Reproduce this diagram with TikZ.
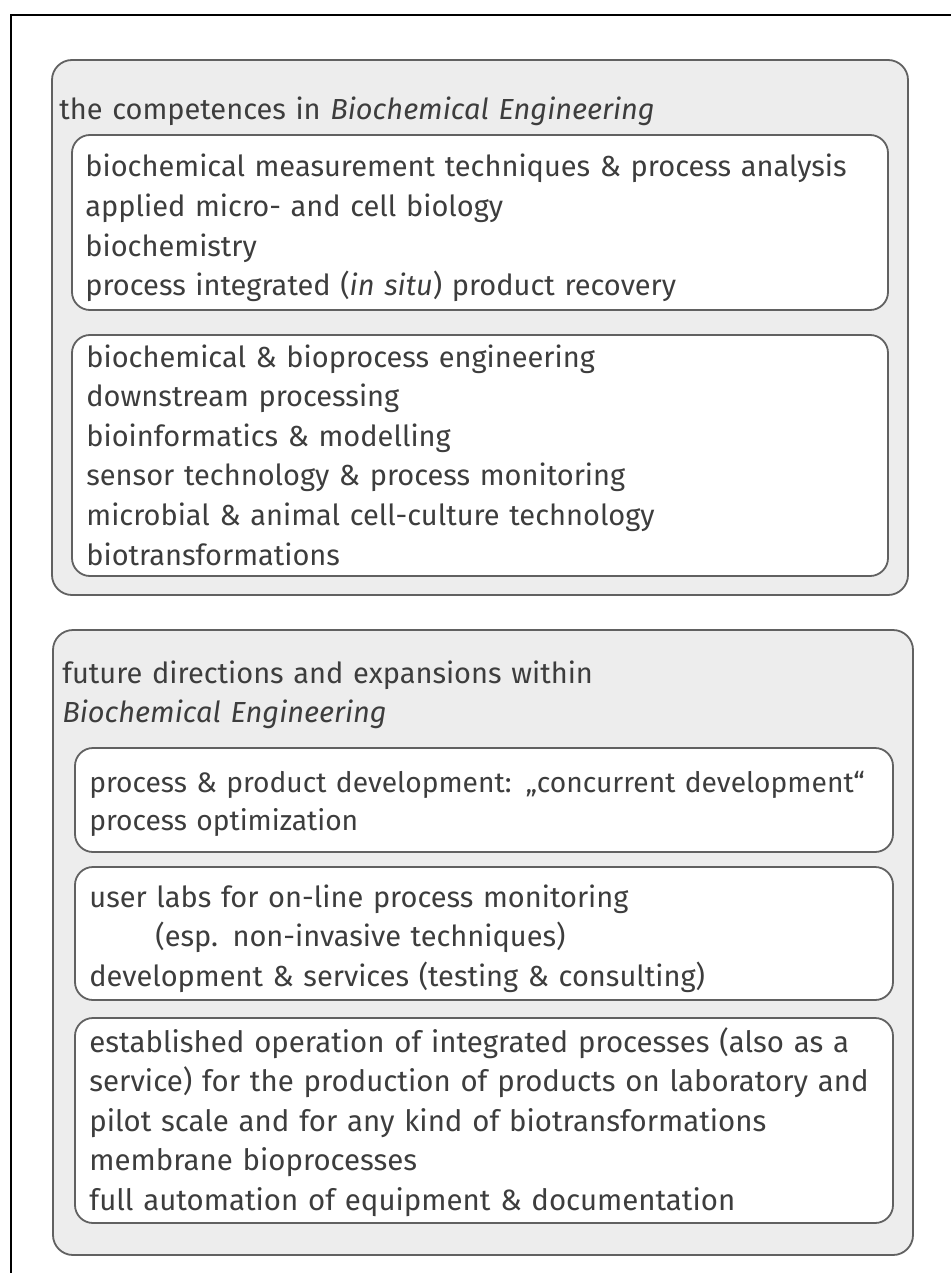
\documentclass[tikz,border=0pt]{standalone}
\usepackage{fontspec}
\setmainfont{Fira Sans}
\usetikzlibrary{calc}
\tikzset{
	outerbox/.style={line width=0.9pt, draw=black!62, fill=black!7, rounded corners=10pt},
	innerbox/.style={line width=0.9pt, draw=black!62, fill=white, rounded corners=9pt},
	boxtext/.style={anchor=base west, inner sep=0pt, align=left, text width=440pt, text=black!76, font=\fontsize{14.5}{19.8}\selectfont}
}

\begin{document}
\begin{tikzpicture}[x=0.5pt, y=-0.5pt]
			%%%%% START %%%%%
			
			\useasboundingbox (0, 0) rectangle (951, 1273);
			\draw[line width=1pt] (951, 15) -- (11, 15) -- (11, 1273);
			
			% competences
			\draw[outerbox] (52, 60) rectangle (908, 595);
			\node[boxtext] (compTitle) at (59, 120) {the competences in \textit{Biochemical Engineering}};
			
			\draw[innerbox] (72, 135) rectangle (888, 310);
			\node[boxtext] (compMeasure) at (85, 177) {biochemical measurement techniques \& process analysis\\
				applied micro- and cell biology\\
				biochemistry\\
				process integrated (\textit{in situ}) product recovery};
			
			\draw[innerbox] (72, 335) rectangle (888, 576);
			\node[boxtext] (compEngineering) at (86, 367) {biochemical \& bioprocess engineering\\
				downstream processing\\
				bioinformatics \& modelling\\
				sensor technology \& process monitoring\\
				microbial \& animal cell-culture technology\\
				biotransformations};
			
			% future directions
			\draw[outerbox] (53, 630) rectangle (913, 1255);
			\node[boxtext] (futTitle) at (62, 683) {future directions and expansions within\\
				\textit{Biochemical Engineering}};
			
			\draw[innerbox] (75, 748) rectangle (893, 852);
			\node[boxtext, font=\fontsize{14.1}{19}\selectfont] (futDevelop) at (89, 792) {process \& product development: „concurrent development“\\
				process optimization};
			
			\draw[innerbox] (75, 867) rectangle (893, 1000);
			\node[boxtext] (futLabs) at (89, 907) {user labs for on-line process monitoring\\
				\hspace*{33pt}(esp. non-invasive techniques)\\
				development \& services (testing \& consulting)};
			
			\draw[innerbox] (75, 1018) rectangle (893, 1223);
			\node[boxtext, font=\fontsize{14.7}{19.8}\selectfont] (futOperation) at (89, 1052) {\spaceskip=4.9pt\relax
				established operation of integrated processes (also as a\\
				service) for the production of products on laboratory and\\
				pilot scale and for any kind of biotransformations\\
				membrane bioprocesses\\
				full automation of equipment \& documentation};
			
			%%%%% END %%%%%
\end{tikzpicture}
\end{document}
